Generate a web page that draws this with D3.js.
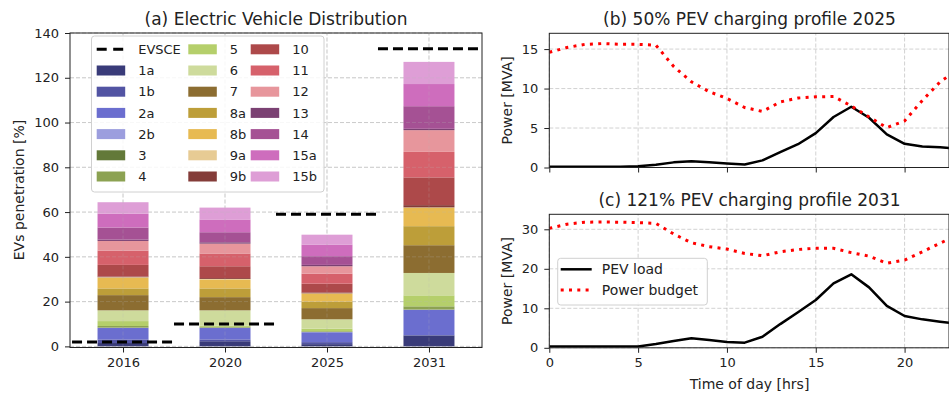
<!DOCTYPE html>
<html>
  <head>
    <meta charset="utf-8">
    <title>EV distribution and charging profiles</title>
    <style media="screen">
      body{margin:0; background-color:#fff;}
      svg text{font-family:"DejaVu Sans", sans-serif; fill:#222;}
    </style>
  </head>
  <body>
<svg width="949" height="394"></svg>
<script src="https://d3js.org/d3.v7.min.js"></script>
<script>

// ---- data ----
var years = ["2016", "2020", "2025", "2031"];
var groups = ["1a","1b","2a","2b","3","4","5","6","7","8a","8b","9a","9b","10","11","12","13","14","15a","15b"];
var colors = ["#393b79","#5254a3","#6b6ecf","#9c9ede","#637939","#8ca252","#b5cf6b","#cedb9c","#8c6d31","#bd9e39",
              "#e7ba52","#e7cb94","#843c39","#ad494a","#d6616b","#e7969c","#7b4173","#a55194","#ce6dbd","#de9ed6"];
var ev2016 = [1.5,1.6,5.1,0.1,0.1,0.7,2.2,4.8,6.8,3.0,4.8,0.2,0.3,5.2,6.4,4.3,0.6,5.4,6.2,5.1];
var ev2020 = [2.3,0.8,5.1,0.1,0.1,0.3,0.5,6.9,5.9,3.9,4.0,0.2,0.4,5.3,5.7,4.4,0.6,4.5,5.7,5.3];
var ev2025 = [1.0,0.9,4.4,0.1,0.1,0.3,1.1,4.2,5.0,2.9,3.6,0.1,0.4,3.9,4.5,3.3,0.6,3.9,5.2,4.4];
var ev2031 = [4.9,0.1,11.3,0.1,0.1,1.4,4.9,10.0,12.4,8.5,8.3,0.1,1.0,12.4,11.4,9.7,0.6,10.1,9.9,9.9];
var evsce = [2, 10, 59, 133];

var hours = [0,1,2,3,4,5,6,7,8,9,10,11,12,13,14,15,16,17,18,19,20,21,22,23];
var loadB = [0.1,0.1,0.1,0.1,0.1,0.15,0.35,0.65,0.8,0.65,0.5,0.38,0.9,1.95,2.95,4.35,6.4,7.7,6.3,4.2,3.0,2.65,2.55,2.4];
var budgetB = [14.6,15.2,15.6,15.7,15.6,15.6,15.5,12.8,10.85,9.6,8.75,7.6,7.1,8.3,8.8,8.95,9.0,7.8,6.4,5.05,5.9,8.5,10.85,12.4];
var loadC = [0.3,0.3,0.3,0.3,0.3,0.35,0.95,1.7,2.4,1.95,1.45,1.3,2.8,6.0,9.0,12.1,16.3,18.6,15.3,10.6,8.05,7.2,6.6,6.1];
var budgetC = [30.25,31.3,31.8,31.85,31.8,31.7,31.5,28.8,26.6,25.6,25.0,23.9,23.3,24.3,24.9,25.2,25.2,24.1,23.2,21.4,22.2,24.3,26.5,28.6];

var svg = d3.select("svg");

function grid(g, x, y, xt, yt, op) {
  var gg = g.append("g").attr("stroke", "#b8b8b8").attr("stroke-width", 0.8)
      .attr("stroke-dasharray", "4,2").attr("stroke-opacity", op);
  xt.forEach(function(t) {
    gg.append("line").attr("x1", x(t)).attr("x2", x(t)).attr("y1", y.range()[0]).attr("y2", y.range()[1]);
  });
  yt.forEach(function(t) {
    gg.append("line").attr("x1", x.range()[0]).attr("x2", x.range()[1]).attr("y1", y(t)).attr("y2", y(t));
  });
}

function frame(g, x, y) {
  g.append("rect")
      .attr("x", x.range()[0]).attr("y", y.range()[1])
      .attr("width", x.range()[1] - x.range()[0]).attr("height", y.range()[0] - y.range()[1])
      .attr("fill", "none").attr("stroke", "#222").attr("stroke-width", 1);
}

function styleAxis(a) {
  a.select(".domain").remove();
  a.selectAll("line").attr("stroke", "#222");
  a.selectAll("text").attr("font-size", 13).attr("fill", "#222");
}

// ---- (a) stacked bars ----
var xa = d3.scaleLinear().domain([-0.52, 3.52]).range([70, 482]);
var ya = d3.scaleLinear().domain([-0.5, 140]).range([347.5, 33]);
var ga = svg.append("g");

grid(ga, xa, ya, [0, 1, 2, 3], [0, 20, 40, 60, 80, 100, 120, 140], 0.8);

var table = years.map(function(yr, i) {
  var row = {year: i};
  var vals = [ev2016, ev2020, ev2025, ev2031][i];
  groups.forEach(function(k, j) { row[k] = vals[j]; });
  return row;
});
var stack = d3.stack().keys(groups)(table);

ga.append("g").selectAll("g")
  .data(stack)
  .enter().append("g")
    .attr("fill", function(d, i) { return colors[i]; })
  .selectAll("rect")
  .data(function(d) { return d; })
  .enter().append("rect")
    .attr("x", function(d) { return xa(d.data.year - 0.25); })
    .attr("width", xa(0.25) - xa(-0.25))
    .attr("y", function(d) { return ya(d[1]); })
    .attr("height", function(d) { return ya(d[0]) - ya(d[1]); });

// faint grid showing through the bars
grid(ga, xa, ya, [0, 1, 2, 3], [0, 20, 40, 60, 80, 100, 120, 140], 0.3);

svg.append("clipPath").attr("id", "clipA").append("rect")
    .attr("x", 70).attr("y", 33).attr("width", 412).attr("height", 315);

ga.append("g").attr("clip-path", "url(#clipA)").selectAll("line")
  .data(evsce)
  .enter().append("line")
    .attr("x1", function(d, i) { return xa(i - 0.5); })
    .attr("x2", function(d, i) { return xa(i + 0.5); })
    .attr("y1", function(d) { return ya(d); })
    .attr("y2", function(d) { return ya(d); })
    .attr("stroke", "#000").attr("stroke-width", 3).attr("stroke-dasharray", "10,5");

ga.append("g").attr("transform", "translate(0,347.5)")
    .call(d3.axisBottom(xa).tickValues([0, 1, 2, 3]).tickFormat(function(d) { return years[d]; }).tickSize(5).tickPadding(5))
    .call(styleAxis);
ga.append("g").attr("transform", "translate(70,0)")
    .call(d3.axisLeft(ya).tickValues([0, 20, 40, 60, 80, 100, 120, 140]).tickSize(5).tickPadding(6))
    .call(styleAxis);
frame(ga, xa, ya);

ga.append("text").attr("x", 276).attr("y", 25).attr("text-anchor", "middle").attr("font-size", 17)
    .text("(a) Electric Vehicle Distribution");
ga.append("text").attr("transform", "translate(24,190) rotate(-90)").attr("text-anchor", "middle").attr("font-size", 14)
    .text("EVs penetration [%]");

// legend (a)
var lg = ga.append("g");
lg.append("rect").attr("x", 91.5).attr("y", 36).attr("width", 232.5).attr("height", 156).attr("rx", 3)
    .attr("fill", "#fff").attr("fill-opacity", 0.85).attr("stroke", "#d0d0d0");
var legendItems = ["EVSCE"].concat(groups);
var colX = [96.7, 188.3, 250.7];
legendItems.forEach(function(name, i) {
  var c = Math.floor(i / 7), r = i % 7;
  var px = colX[c], py = 49.3 + r * 21.2;
  if (i === 0) {
    lg.append("line").attr("x1", px).attr("x2", px + 28.5).attr("y1", py).attr("y2", py)
        .attr("stroke", "#000").attr("stroke-width", 3).attr("stroke-dasharray", "10,6.5");
  } else {
    lg.append("rect").attr("x", px).attr("y", py - 5).attr("width", 28.5).attr("height", 10)
        .attr("fill", colors[i - 1]);
  }
  lg.append("text").attr("x", px + 41.5).attr("y", py).attr("dy", "0.36em").attr("font-size", 13).text(name);
});

// ---- (b) and (c) line charts ----
function linePanel(top, bottom, ymax, yt, load, budget, title, titleY, showX) {
  var x = d3.scaleLinear().domain([0, 22.5]).range([549.3, 949]);
  var y = d3.scaleLinear().domain([0, ymax]).range([bottom, top]);
  var g = svg.append("g");
  grid(g, x, y, [0, 5, 10, 15, 20], yt, 0.8);

  var id = "clip" + titleY;
  svg.append("clipPath").attr("id", id).append("rect")
      .attr("x", 549.3).attr("y", top).attr("width", 400).attr("height", bottom - top);

  var line = d3.line()
      .x(function(d, i) { return x(hours[i]); })
      .y(function(d) { return y(d); });

  var lines = g.append("g").attr("clip-path", "url(#" + id + ")");
  lines.append("path").datum(load)
      .attr("fill", "none").attr("stroke", "#000").attr("stroke-width", 2.5)
      .attr("stroke-linejoin", "round").attr("d", line);
  lines.append("path").datum(budget)
      .attr("fill", "none").attr("stroke", "#ff0000").attr("stroke-width", 3)
      .attr("stroke-dasharray", "3,5.3").attr("d", line);

  g.append("g").attr("transform", "translate(0," + bottom + ")")
      .call(d3.axisBottom(x).tickValues([0, 5, 10, 15, 20]).tickSize(5).tickPadding(5)
        .tickFormat(showX ? d3.format("d") : function() { return ""; }))
      .call(styleAxis);
  g.append("g").attr("transform", "translate(549.3,0)")
      .call(d3.axisLeft(y).tickValues(yt).tickSize(5).tickPadding(6))
      .call(styleAxis);
  frame(g, x, y);

  g.append("text").attr("x", 749.5).attr("y", titleY).attr("text-anchor", "middle").attr("font-size", 17).text(title);
  g.append("text").attr("transform", "translate(512," + ((top + bottom) / 2) + ") rotate(-90)")
      .attr("text-anchor", "middle").attr("font-size", 14).text("Power [MVA]");
  return g;
}

linePanel(33.3, 167.5, 17, [0, 5, 10, 15], loadB, budgetB, "(b) 50% PEV charging profile 2025", 25, false);
var gc = linePanel(214.3, 347.8, 33.8, [0, 10, 20, 30], loadC, budgetC, "(c) 121% PEV charging profile 2031", 206, true);

gc.append("text").attr("x", 749.5).attr("y", 389).attr("text-anchor", "middle").attr("font-size", 14)
    .text("Time of day [hrs]");

// legend (c)
var lc = gc.append("g");
lc.append("rect").attr("x", 557.7).attr("y", 258.3).attr("width", 149.6).attr("height", 46.7).attr("rx", 3)
    .attr("fill", "#fff").attr("fill-opacity", 0.85).attr("stroke", "#d0d0d0");
lc.append("line").attr("x1", 560.7).attr("x2", 591.7).attr("y1", 269.3).attr("y2", 269.3)
    .attr("stroke", "#000").attr("stroke-width", 2.5);
lc.append("line").attr("x1", 560.7).attr("x2", 591.7).attr("y1", 290).attr("y2", 290)
    .attr("stroke", "#ff0000").attr("stroke-width", 3).attr("stroke-dasharray", "3,5.3");
lc.append("text").attr("x", 601.7).attr("y", 269.3).attr("dy", "0.36em").attr("font-size", 14).text("PEV load");
lc.append("text").attr("x", 601.7).attr("y", 290).attr("dy", "0.36em").attr("font-size", 14).text("Power budget");

</script>
  </body>
</html>
